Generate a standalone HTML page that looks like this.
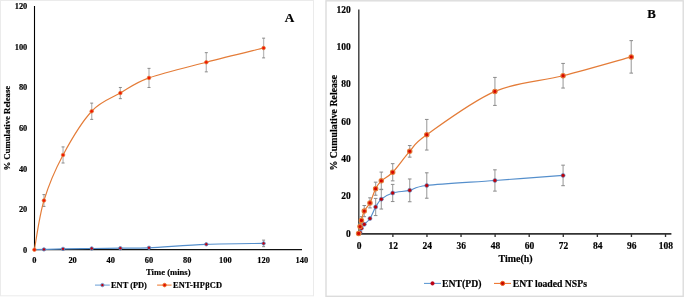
<!DOCTYPE html>
<html><head><meta charset="utf-8"><title>Cumulative Release</title>
<style>
html,body{margin:0;padding:0;background:#fff;}
body{width:685px;height:298px;overflow:hidden;font-family:"Liberation Serif", serif;}
svg{display:block;will-change:transform;}
</style></head><body>
<svg width="685" height="298" viewBox="0 0 685 298">
<rect x="0" y="0" width="685" height="298" fill="#fff"/>
<rect x="0.5" y="0.5" width="313" height="295.3" fill="none" stroke="#ebebeb" stroke-width="1"/>
<rect x="326" y="0.8" width="357.2" height="295.5" fill="none" stroke="#dcdcdc" stroke-width="1.4"/>
<g font-family='"Liberation Serif", serif' font-weight="bold" fill="#000" stroke="#000" stroke-width="0.18">
<text x="27.3" y="252.9" font-size="8.4" text-anchor="end">0</text>
<text x="27.3" y="212.24" font-size="8.4" text-anchor="end">20</text>
<text x="27.3" y="171.58" font-size="8.4" text-anchor="end">40</text>
<text x="27.3" y="130.92" font-size="8.4" text-anchor="end">60</text>
<text x="27.3" y="90.26" font-size="8.4" text-anchor="end">80</text>
<text x="27.3" y="49.6" font-size="8.4" text-anchor="end">100</text>
<text x="27.3" y="8.94" font-size="8.4" text-anchor="end">120</text>
<text x="34.4" y="263.1" font-size="8.4" text-anchor="middle">0</text>
<text x="72.6" y="263.1" font-size="8.4" text-anchor="middle">20</text>
<text x="110.8" y="263.1" font-size="8.4" text-anchor="middle">40</text>
<text x="149" y="263.1" font-size="8.4" text-anchor="middle">60</text>
<text x="187.2" y="263.1" font-size="8.4" text-anchor="middle">80</text>
<text x="225.4" y="263.1" font-size="8.4" text-anchor="middle">100</text>
<text x="263.6" y="263.1" font-size="8.4" text-anchor="middle">120</text>
<text x="301.8" y="263.1" font-size="8.4" text-anchor="middle">140</text>
<text x="168.3" y="274.9" font-size="8.6" text-anchor="middle">Time (mins)</text>
<text transform="translate(10.3 128.2) rotate(-90)" font-size="8.72" text-anchor="middle">% Cumulative Release</text>
<text x="289.6" y="21.6" font-size="13.2" text-anchor="middle">A</text>
<text x="111" y="288.1" font-size="8.4">ENT (PD)</text>
<text x="173" y="288.1" font-size="8.4" letter-spacing="0.22">ENT-HP&#946;CD</text>
</g>
<line x1="95" y1="285.1" x2="109.8" y2="285.1" stroke="#6FA3D8" stroke-width="1.05"/>
<circle cx="102.4" cy="285.1" r="1.7" fill="#C00010" stroke="#6FA3D8" stroke-width="0.9"/>
<line x1="157.1" y1="285.1" x2="171.6" y2="285.1" stroke="#EE7A30" stroke-width="1.05"/>
<circle cx="164.6" cy="285.1" r="1.8" fill="#E01000" stroke="#EE7A30" stroke-width="0.9"/>
<line x1="34.5" y1="6" x2="34.5" y2="250" stroke="#000" stroke-width="1.1"/>
<line x1="34" y1="249.5" x2="302" y2="249.5" stroke="#111" stroke-width="1.25"/>
<path d="M43.95 194.61 V206.4" stroke="#BBBBBB" stroke-width="1.3" fill="none"/>
<path d="M42.45 194.61 H45.45 M42.45 206.4 H45.45" stroke="#8A8A8A" stroke-width="1.0" fill="none"/>
<path d="M63.05 146.91 V163.01" stroke="#BBBBBB" stroke-width="1.3" fill="none"/>
<path d="M61.55 146.91 H64.55 M61.55 163.01 H64.55" stroke="#8A8A8A" stroke-width="1.0" fill="none"/>
<path d="M91.7 103.12 V119.38" stroke="#BBBBBB" stroke-width="1.3" fill="none"/>
<path d="M90.2 103.12 H93.2 M90.2 119.38 H93.2" stroke="#8A8A8A" stroke-width="1.0" fill="none"/>
<path d="M120.35 87.47 V98.65" stroke="#BBBBBB" stroke-width="1.3" fill="none"/>
<path d="M118.85 87.47 H121.85 M118.85 98.65 H121.85" stroke="#8A8A8A" stroke-width="1.0" fill="none"/>
<path d="M149 68.36 V87.47" stroke="#BBBBBB" stroke-width="1.3" fill="none"/>
<path d="M147.5 68.36 H150.5 M147.5 87.47 H150.5" stroke="#8A8A8A" stroke-width="1.0" fill="none"/>
<path d="M206.3 52.66 V71.85" stroke="#BBBBBB" stroke-width="1.3" fill="none"/>
<path d="M204.8 52.66 H207.8 M204.8 71.85 H207.8" stroke="#8A8A8A" stroke-width="1.0" fill="none"/>
<path d="M263.6 38.17 V57.89" stroke="#BBBBBB" stroke-width="1.3" fill="none"/>
<path d="M262.1 38.17 H265.1 M262.1 57.89 H265.1" stroke="#8A8A8A" stroke-width="1.0" fill="none"/>
<path d="M263.6 240.14 V246.65" stroke="#BBBBBB" stroke-width="1.3" fill="none"/>
<path d="M262.1 240.14 H265.1 M262.1 246.65 H265.1" stroke="#8A8A8A" stroke-width="1.0" fill="none"/>
<path d="M34.4 249.7 C35.99 249.65 39.17 249.53 43.95 249.4 C48.72 249.26 55.09 249.04 63.05 248.89 C71.01 248.73 82.15 248.6 91.7 248.48 C101.25 248.36 110.8 248.31 120.35 248.2 C129.9 248.08 134.68 248.44 149 247.79 C163.32 247.14 187.2 245.02 206.3 244.29 C225.4 243.56 254.05 243.55 263.6 243.4" fill="none" stroke="#558FCC" stroke-width="1.2"/>
<path d="M34.4 249.7 C35.99 241.5 39.17 216.29 43.95 200.5 C48.72 184.71 55.09 169.84 63.05 154.96 C71.01 140.09 82.15 121.57 91.7 111.25 C101.25 100.94 110.8 98.61 120.35 93.06 C129.9 87.5 134.68 83.04 149 77.91 C163.32 72.78 187.2 67.24 206.3 62.26 C225.4 57.28 254.05 50.4 263.6 48.03" fill="none" stroke="#E47C38" stroke-width="1.15"/>
<circle cx="43.95" cy="249.4" r="1.7" fill="#C00010" stroke="#558FCC" stroke-width="0.8"/>
<circle cx="63.05" cy="248.89" r="1.7" fill="#C00010" stroke="#558FCC" stroke-width="0.8"/>
<circle cx="91.7" cy="248.48" r="1.7" fill="#C00010" stroke="#558FCC" stroke-width="0.8"/>
<circle cx="120.35" cy="248.2" r="1.7" fill="#C00010" stroke="#558FCC" stroke-width="0.8"/>
<circle cx="149" cy="247.79" r="1.7" fill="#C00010" stroke="#558FCC" stroke-width="0.8"/>
<circle cx="206.3" cy="244.29" r="1.7" fill="#C00010" stroke="#558FCC" stroke-width="0.8"/>
<circle cx="263.6" cy="243.4" r="1.7" fill="#C00010" stroke="#558FCC" stroke-width="0.8"/>
<circle cx="34.4" cy="249.7" r="1.8" fill="#F01800" stroke="#E47C38" stroke-width="0.7"/>
<circle cx="43.95" cy="200.5" r="1.8" fill="#F01800" stroke="#E47C38" stroke-width="0.7"/>
<circle cx="63.05" cy="154.96" r="1.8" fill="#F01800" stroke="#E47C38" stroke-width="0.7"/>
<circle cx="91.7" cy="111.25" r="1.8" fill="#F01800" stroke="#E47C38" stroke-width="0.7"/>
<circle cx="120.35" cy="93.06" r="1.8" fill="#F01800" stroke="#E47C38" stroke-width="0.7"/>
<circle cx="149" cy="77.91" r="1.8" fill="#F01800" stroke="#E47C38" stroke-width="0.7"/>
<circle cx="206.3" cy="62.26" r="1.8" fill="#F01800" stroke="#E47C38" stroke-width="0.7"/>
<circle cx="263.6" cy="48.03" r="1.8" fill="#F01800" stroke="#E47C38" stroke-width="0.7"/>
<g font-family='"Liberation Serif", serif' font-weight="bold" fill="#000" stroke="#000" stroke-width="0.18">
<text x="350.7" y="236.7" font-size="9.5" text-anchor="end">0</text>
<text x="350.7" y="199.36" font-size="9.5" text-anchor="end">20</text>
<text x="350.7" y="162.02" font-size="9.5" text-anchor="end">40</text>
<text x="350.7" y="124.68" font-size="9.5" text-anchor="end">60</text>
<text x="350.7" y="87.34" font-size="9.5" text-anchor="end">80</text>
<text x="350.7" y="50" font-size="9.5" text-anchor="end">100</text>
<text x="350.7" y="12.66" font-size="9.5" text-anchor="end">120</text>
<text x="359.1" y="248.5" font-size="9.5" text-anchor="middle">0</text>
<text x="393.18" y="248.5" font-size="9.5" text-anchor="middle">12</text>
<text x="427.26" y="248.5" font-size="9.5" text-anchor="middle">24</text>
<text x="461.34" y="248.5" font-size="9.5" text-anchor="middle">36</text>
<text x="495.42" y="248.5" font-size="9.5" text-anchor="middle">48</text>
<text x="529.5" y="248.5" font-size="9.5" text-anchor="middle">60</text>
<text x="563.58" y="248.5" font-size="9.5" text-anchor="middle">72</text>
<text x="597.66" y="248.5" font-size="9.5" text-anchor="middle">84</text>
<text x="631.74" y="248.5" font-size="9.5" text-anchor="middle">96</text>
<text x="665.82" y="248.5" font-size="9.5" text-anchor="middle">108</text>
<text x="498.5" y="262" font-size="9.95">Time(h)</text>
<text transform="translate(337.2 122.7) rotate(-90)" font-size="9.85" text-anchor="middle">% Cumulative Release</text>
<text x="651.6" y="18.1" font-size="12.8" text-anchor="middle">B</text>
<text x="442.1" y="287.3" font-size="9.7">ENT(PD)</text>
<text x="512.8" y="287.3" font-size="9.7">ENT loaded NSPs</text>
</g>
<line x1="424" y1="283.4" x2="441" y2="283.4" stroke="#5B97D2" stroke-width="1.05"/>
<circle cx="432.5" cy="283.4" r="1.8" fill="#C00010" stroke="#B01030" stroke-width="0.5"/>
<line x1="494" y1="283.4" x2="511" y2="283.4" stroke="#EE7028" stroke-width="1.05"/>
<circle cx="502.6" cy="283.4" r="2.1" fill="#C80800" stroke="#EE6A22" stroke-width="1.0"/>
<line x1="358.8" y1="9.5" x2="358.8" y2="234.5" stroke="#444" stroke-width="1.5"/>
<line x1="358.1" y1="233.85" x2="671.4" y2="233.85" stroke="#333" stroke-width="1.6"/>
<path d="M392.88 234 V236.9 M426.96 234 V236.9 M461.04 234 V236.9 M495.12 234 V236.9 M529.2 234 V236.9 M563.28 234 V236.9 M597.36 234 V236.9 M631.44 234 V236.9 M665.52 234 V236.9 " stroke="#333" stroke-width="1.35"/>
<path d="M360.02 223.79 V229.39" stroke="#A4A4A4" stroke-width="1.15" fill="none"/>
<path d="M358.22 223.79 H361.82 M358.22 229.39 H361.82" stroke="#8A8A8A" stroke-width="1.0" fill="none"/>
<path d="M361.44 216.7 V224.16" stroke="#A4A4A4" stroke-width="1.15" fill="none"/>
<path d="M359.64 216.7 H363.24 M359.64 224.16 H363.24" stroke="#8A8A8A" stroke-width="1.0" fill="none"/>
<path d="M364.28 205.5 V216.7" stroke="#A4A4A4" stroke-width="1.15" fill="none"/>
<path d="M362.48 205.5 H366.08 M362.48 216.7 H366.08" stroke="#8A8A8A" stroke-width="1.0" fill="none"/>
<path d="M369.96 197.84 V207.92" stroke="#A4A4A4" stroke-width="1.15" fill="none"/>
<path d="M368.16 197.84 H371.76 M368.16 207.92 H371.76" stroke="#8A8A8A" stroke-width="1.0" fill="none"/>
<path d="M375.64 182.16 V195.23" stroke="#A4A4A4" stroke-width="1.15" fill="none"/>
<path d="M373.84 182.16 H377.44 M373.84 195.23 H377.44" stroke="#8A8A8A" stroke-width="1.0" fill="none"/>
<path d="M381.32 172.08 V189.63" stroke="#A4A4A4" stroke-width="1.15" fill="none"/>
<path d="M379.52 172.08 H383.12 M379.52 189.63 H383.12" stroke="#8A8A8A" stroke-width="1.0" fill="none"/>
<path d="M392.68 163.67 V180.85" stroke="#A4A4A4" stroke-width="1.15" fill="none"/>
<path d="M390.88 163.67 H394.48 M390.88 180.85 H394.48" stroke="#8A8A8A" stroke-width="1.0" fill="none"/>
<path d="M409.72 145.56 V157.14" stroke="#A4A4A4" stroke-width="1.15" fill="none"/>
<path d="M407.92 145.56 H411.52 M407.92 157.14 H411.52" stroke="#8A8A8A" stroke-width="1.0" fill="none"/>
<path d="M426.76 119.43 V150.05" stroke="#A4A4A4" stroke-width="1.15" fill="none"/>
<path d="M424.96 119.43 H428.56 M424.96 150.05 H428.56" stroke="#8A8A8A" stroke-width="1.0" fill="none"/>
<path d="M494.92 77.42 V105.42" stroke="#A4A4A4" stroke-width="1.15" fill="none"/>
<path d="M493.12 77.42 H496.72 M493.12 105.42 H496.72" stroke="#8A8A8A" stroke-width="1.0" fill="none"/>
<path d="M563.08 63.42 V88.06" stroke="#A4A4A4" stroke-width="1.15" fill="none"/>
<path d="M561.28 63.42 H564.88 M561.28 88.06 H564.88" stroke="#8A8A8A" stroke-width="1.0" fill="none"/>
<path d="M631.24 40.64 V73.12" stroke="#A4A4A4" stroke-width="1.15" fill="none"/>
<path d="M629.44 40.64 H633.04 M629.44 73.12 H633.04" stroke="#8A8A8A" stroke-width="1.0" fill="none"/>
<path d="M375.64 198.4 V215.58" stroke="#A4A4A4" stroke-width="1.15" fill="none"/>
<path d="M373.84 198.4 H377.44 M373.84 215.58 H377.44" stroke="#8A8A8A" stroke-width="1.0" fill="none"/>
<path d="M381.32 189.25 V209.04" stroke="#A4A4A4" stroke-width="1.15" fill="none"/>
<path d="M379.52 189.25 H383.12 M379.52 209.04 H383.12" stroke="#8A8A8A" stroke-width="1.0" fill="none"/>
<path d="M392.68 184.4 V201.57" stroke="#A4A4A4" stroke-width="1.15" fill="none"/>
<path d="M390.88 184.4 H394.48 M390.88 201.57 H394.48" stroke="#8A8A8A" stroke-width="1.0" fill="none"/>
<path d="M409.72 178.98 V201.76" stroke="#A4A4A4" stroke-width="1.15" fill="none"/>
<path d="M407.92 178.98 H411.52 M407.92 201.76 H411.52" stroke="#8A8A8A" stroke-width="1.0" fill="none"/>
<path d="M426.76 172.82 V198.21" stroke="#A4A4A4" stroke-width="1.15" fill="none"/>
<path d="M424.96 172.82 H428.56 M424.96 198.21 H428.56" stroke="#8A8A8A" stroke-width="1.0" fill="none"/>
<path d="M494.92 169.84 V191.12" stroke="#A4A4A4" stroke-width="1.15" fill="none"/>
<path d="M493.12 169.84 H496.72 M493.12 191.12 H496.72" stroke="#8A8A8A" stroke-width="1.0" fill="none"/>
<path d="M563.08 165.17 V185.7" stroke="#A4A4A4" stroke-width="1.15" fill="none"/>
<path d="M561.28 165.17 H564.88 M561.28 185.7 H564.88" stroke="#8A8A8A" stroke-width="1.0" fill="none"/>
<path d="M358.6 233.5 C358.84 233.31 359.55 233.25 360.02 232.38 C360.49 231.51 360.73 229.61 361.44 228.27 C362.15 226.93 362.86 225.97 364.28 224.35 C365.7 222.73 368.07 221.46 369.96 218.56 C371.85 215.67 373.75 210.22 375.64 206.99 C377.53 203.75 378.48 201.48 381.32 199.15 C384.16 196.81 387.95 194.45 392.68 192.99 C397.41 191.52 404.04 191.62 409.72 190.37 C415.4 189.13 412.56 187.17 426.76 185.52 C440.96 183.87 472.2 182.16 494.92 180.48 C517.64 178.8 551.72 176.28 563.08 175.44" fill="none" stroke="#558FCC" stroke-width="1.15"/>
<path d="M358.6 233.5 C358.84 232.35 359.55 228.77 360.02 226.59 C360.49 224.41 360.73 223.01 361.44 220.43 C362.15 217.85 362.86 214.02 364.28 211.1 C365.7 208.17 368.07 206.62 369.96 202.88 C371.85 199.15 373.75 192.36 375.64 188.69 C377.53 185.02 378.48 183.59 381.32 180.85 C384.16 178.11 387.95 177.18 392.68 172.26 C397.41 167.35 404.04 157.61 409.72 151.35 C415.4 145.1 412.56 144.72 426.76 134.74 C440.96 124.75 472.2 101.25 494.92 91.42 C517.64 81.59 540.36 81.5 563.08 75.74 C585.8 69.98 619.88 60.02 631.24 56.88" fill="none" stroke="#E47C38" stroke-width="1.25"/>
<circle cx="358.6" cy="233.5" r="2.0" fill="#C00008" stroke="#558FCC" stroke-width="0.6"/>
<circle cx="360.02" cy="232.38" r="2.0" fill="#C00008" stroke="#558FCC" stroke-width="0.6"/>
<circle cx="361.44" cy="228.27" r="2.0" fill="#C00008" stroke="#558FCC" stroke-width="0.6"/>
<circle cx="364.28" cy="224.35" r="2.0" fill="#C00008" stroke="#558FCC" stroke-width="0.6"/>
<circle cx="369.96" cy="218.56" r="2.0" fill="#C00008" stroke="#558FCC" stroke-width="0.6"/>
<circle cx="375.64" cy="206.99" r="2.0" fill="#C00008" stroke="#558FCC" stroke-width="0.6"/>
<circle cx="381.32" cy="199.15" r="2.0" fill="#C00008" stroke="#558FCC" stroke-width="0.6"/>
<circle cx="392.68" cy="192.99" r="2.0" fill="#C00008" stroke="#558FCC" stroke-width="0.6"/>
<circle cx="409.72" cy="190.37" r="2.0" fill="#C00008" stroke="#558FCC" stroke-width="0.6"/>
<circle cx="426.76" cy="185.52" r="2.0" fill="#C00008" stroke="#558FCC" stroke-width="0.6"/>
<circle cx="494.92" cy="180.48" r="2.0" fill="#C00008" stroke="#558FCC" stroke-width="0.6"/>
<circle cx="563.08" cy="175.44" r="2.0" fill="#C00008" stroke="#558FCC" stroke-width="0.6"/>
<circle cx="358.6" cy="233.5" r="2.2" fill="#D80800" stroke="#E47C38" stroke-width="1.1"/>
<circle cx="360.02" cy="226.59" r="2.2" fill="#D80800" stroke="#E47C38" stroke-width="1.1"/>
<circle cx="361.44" cy="220.43" r="2.2" fill="#D80800" stroke="#E47C38" stroke-width="1.1"/>
<circle cx="364.28" cy="211.1" r="2.2" fill="#D80800" stroke="#E47C38" stroke-width="1.1"/>
<circle cx="369.96" cy="202.88" r="2.2" fill="#D80800" stroke="#E47C38" stroke-width="1.1"/>
<circle cx="375.64" cy="188.69" r="2.2" fill="#D80800" stroke="#E47C38" stroke-width="1.1"/>
<circle cx="381.32" cy="180.85" r="2.2" fill="#D80800" stroke="#E47C38" stroke-width="1.1"/>
<circle cx="392.68" cy="172.26" r="2.2" fill="#D80800" stroke="#E47C38" stroke-width="1.1"/>
<circle cx="409.72" cy="151.35" r="2.2" fill="#D80800" stroke="#E47C38" stroke-width="1.1"/>
<circle cx="426.76" cy="134.74" r="2.2" fill="#D80800" stroke="#E47C38" stroke-width="1.1"/>
<circle cx="494.92" cy="91.42" r="2.2" fill="#D80800" stroke="#E47C38" stroke-width="1.1"/>
<circle cx="563.08" cy="75.74" r="2.2" fill="#D80800" stroke="#E47C38" stroke-width="1.1"/>
<circle cx="631.24" cy="56.88" r="2.2" fill="#D80800" stroke="#E47C38" stroke-width="1.1"/>
</svg>
</body></html>
